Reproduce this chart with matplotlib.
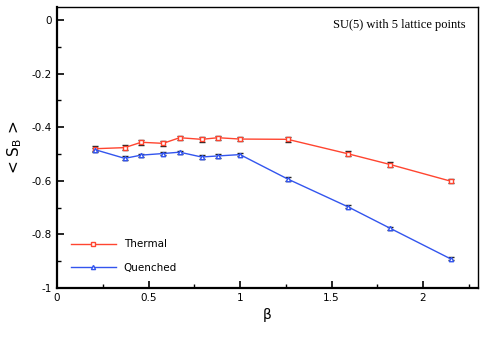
import matplotlib
matplotlib.use("Agg")
import matplotlib.pyplot as plt
from matplotlib.ticker import MultipleLocator, FuncFormatter
from matplotlib.lines import Line2D

beta = [0.21, 0.37, 0.46, 0.58, 0.67, 0.79, 0.88, 1.0, 1.26, 1.59, 1.82, 2.15]
thermal = [-0.480, -0.476, -0.456, -0.460, -0.439, -0.445, -0.439, -0.444, -0.445, -0.499, -0.539, -0.601]
thermal_err = [0.010, 0.010, 0.010, 0.010, 0.008, 0.009, 0.007, 0.007, 0.009, 0.010, 0.010, 0.008]
quenched = [-0.484, -0.516, -0.504, -0.498, -0.493, -0.511, -0.507, -0.502, -0.593, -0.697, -0.777, -0.891]
quenched_err = [0.008, 0.008, 0.006, 0.005, 0.006, 0.006, 0.006, 0.006, 0.006, 0.006, 0.006, 0.005]

red = "#ff4530"
blue = "#3355ee"

fig = plt.figure(figsize=(4.85, 3.46), dpi=100)
ax = fig.add_axes([0.1175, 0.1676, 0.868, 0.813])

ax.errorbar(beta, thermal, yerr=thermal_err, color=red, marker="s", ms=3.2,
            mfc="white", mec=red, mew=1.0, lw=1.0, ecolor="#222222",
            elinewidth=1.0, capsize=2, capthick=1.0, zorder=3)
ax.errorbar(beta, quenched, yerr=quenched_err, color=blue, marker="^", ms=3.2,
            mfc="white", mec=blue, mew=1.0, lw=1.0, ecolor="#222222",
            elinewidth=1.0, capsize=2, capthick=1.0, zorder=3)

ax.set_xlim(0, 2.3)
ax.set_ylim(-1, 0.05)
ax.xaxis.set_major_locator(MultipleLocator(0.5))
ax.xaxis.set_minor_locator(MultipleLocator(0.25))
ax.yaxis.set_major_locator(MultipleLocator(0.2))
ax.yaxis.set_minor_locator(MultipleLocator(0.1))
ax.tick_params(which="both", direction="in", top=False, right=False, labelsize=7.5)
ax.tick_params(which="major", length=5, width=1.2)
ax.tick_params(which="minor", length=3, width=1.0)
fmt = FuncFormatter(lambda v, p: f"{round(v, 6):g}" if abs(v) > 1e-9 else "0")
ax.xaxis.set_major_formatter(fmt)
ax.yaxis.set_major_formatter(fmt)

for s in ["left", "bottom"]:
    ax.spines[s].set_linewidth(1.6)
for s in ["top", "right"]:
    ax.spines[s].set_linewidth(1.0)

ax.set_xlabel("β", fontsize=10, labelpad=4)
ax.set_ylabel(r"< S$_\mathregular{B}$ >", fontsize=11)
ax.yaxis.set_label_coords(-0.078, 0.5)

ax.text(0.97, 0.955, "SU(5) with 5 lattice points", transform=ax.transAxes,
        ha="right", va="top", fontsize=9, family="Liberation Serif")

handles = [
    Line2D([], [], color=red, marker="s", ms=3, mfc="white", mec=red, lw=1.0),
    Line2D([], [], color=blue, marker="^", ms=3, mfc="white", mec=blue, lw=1.0),
]
ax.legend(handles, ["Thermal", "Quenched"], loc="lower left",
          bbox_to_anchor=(0.01, 0.02), frameon=False, numpoints=1,
          fontsize=7.5, handlelength=4.4, labelspacing=1.3, borderaxespad=0.5,
          handletextpad=0.7)

fig.savefig("out.png", dpi=100)
